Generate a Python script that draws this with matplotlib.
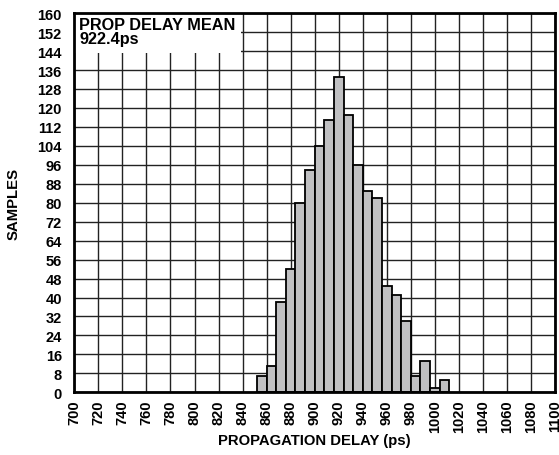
import matplotlib.pyplot as plt
import numpy as np

plt.rcParams['font.family'] = ['Liberation Sans', 'DejaVu Sans']
plt.rcParams['font.weight'] = 'bold'

# histogram bins (left edges, ps) and sample counts
bin_left = np.arange(852, 1012, 8)
samples = [7, 11, 38, 52, 80, 94, 104, 115, 133, 117,
           96, 85, 82, 45, 41, 30, 7, 13, 2, 5]
bin_width = 8

x_ticks = np.arange(700, 1101, 20)
y_ticks = np.arange(0, 161, 8)

fig = plt.figure(figsize=(5.59, 4.56), dpi=100)
ax = fig.add_axes([0.133, 0.1375, 0.860, 0.8315])

ax.bar(bin_left, samples, width=bin_width, align='edge',
       color='#c0c0c2', edgecolor='black', linewidth=1.3, zorder=3)

ax.set_xlim(700, 1100)
ax.set_ylim(0, 160)
ax.set_xticks(x_ticks)
ax.set_yticks(y_ticks)
ax.set_xticklabels([str(v) for v in x_ticks], rotation=90, fontsize=10.5, fontweight='bold')
ax.set_yticklabels([str(v) for v in y_ticks], fontsize=10.5, fontweight='bold')
ax.tick_params(axis='x', length=0, pad=5)
ax.tick_params(axis='y', length=0, pad=9)
ax.grid(True, color='#222222', linewidth=1.0, zorder=1)
ax.set_axisbelow(True)
for s in ax.spines.values():
    s.set_linewidth(2)
    s.set_zorder(5)

ax.set_xlabel('PROPAGATION DELAY (ps)', fontsize=10.7, fontweight='bold', labelpad=1)
ax.set_ylabel('SAMPLES', fontsize=10.7, fontweight='bold', labelpad=12)

# annotation box covering the grid in the upper-left corner
ax.add_patch(plt.Rectangle((700, 143.2), 139, 16.8, facecolor='white',
                           edgecolor='none', zorder=2))
ax.text(704, 158.5, 'PROP DELAY MEAN\n922.4ps', fontsize=11.7, fontweight='bold',
        va='top', ha='left', linespacing=0.95, zorder=4)

fig.savefig('out.png', dpi=100)
